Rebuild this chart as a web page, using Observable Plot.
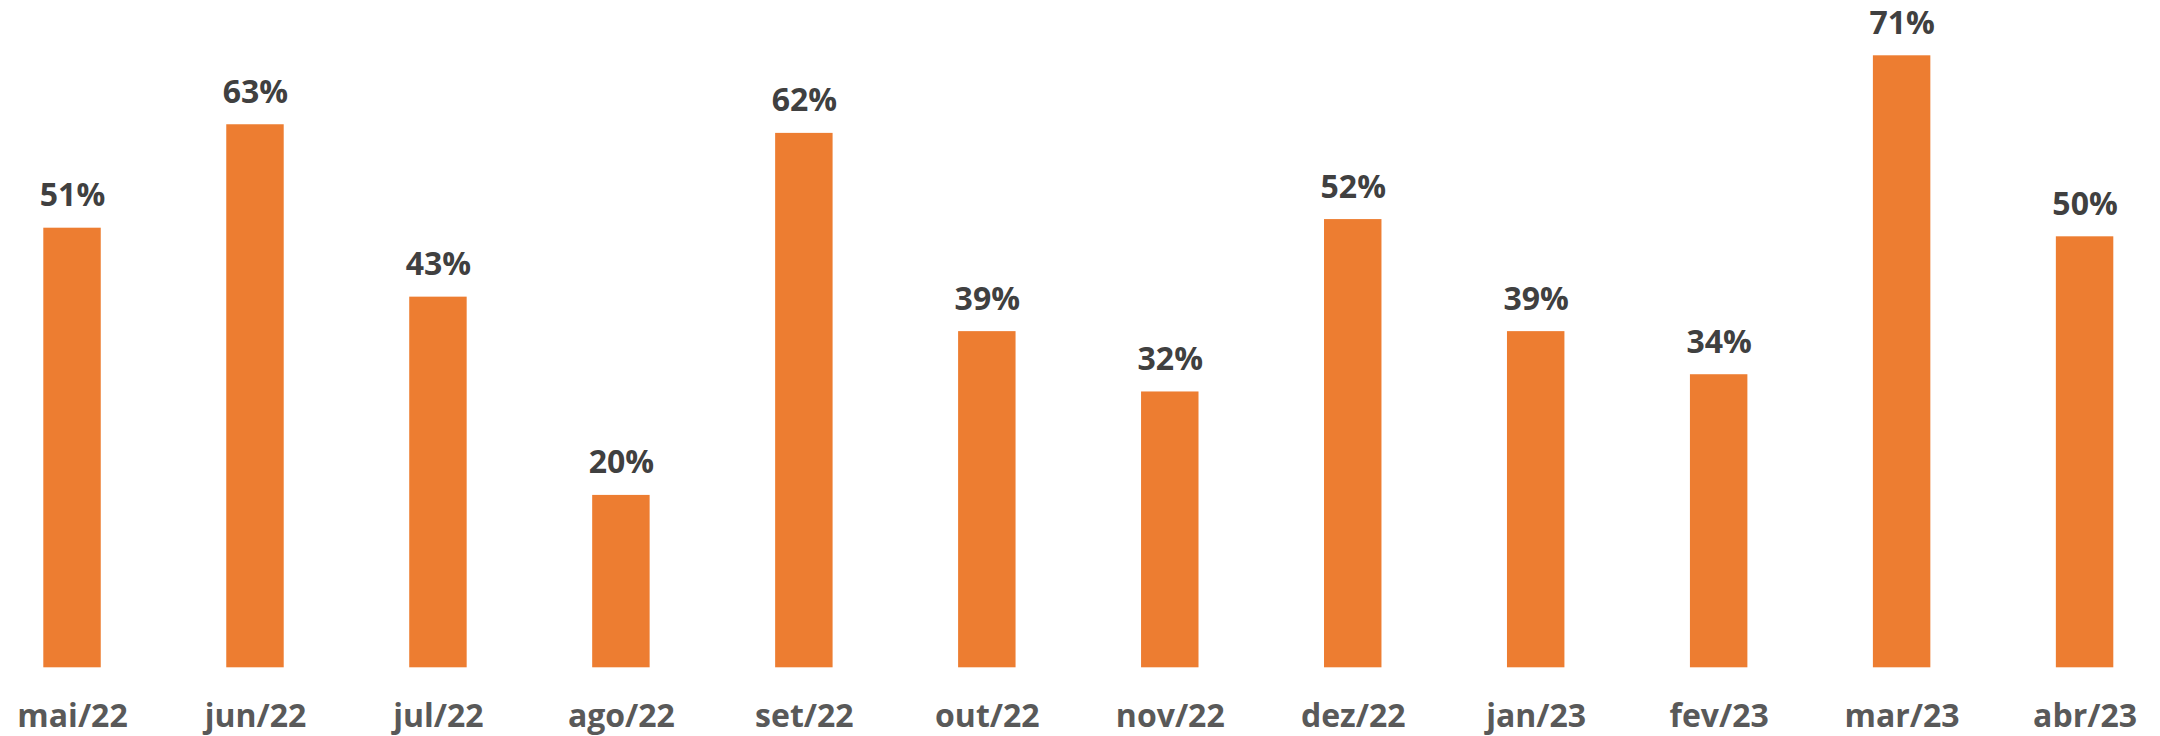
<!DOCTYPE html>
<html>
<head>
<meta charset="utf-8">
<script src="https://cdn.jsdelivr.net/npm/d3@7"></script>
<script src="https://cdn.jsdelivr.net/npm/@observablehq/plot@0.6"></script>
<style>
  html, body { margin: 0; padding: 0; background: #ffffff; }
  #chart svg { display: block; }
</style>
</head>
<body>
<div id="chart"></div>
<script>
const months = ["mai/22", "jun/22", "jul/22", "ago/22", "set/22", "out/22", "nov/22", "dez/22", "jan/23", "fev/23", "mar/23", "abr/23"];
const values = [51, 63, 43, 20, 62, 39, 32, 52, 39, 34, 71, 50];

const data = months.map((m, i) => ({month: m, value: values[i]}));

const chart = Plot.plot({
  width: 2160,
  height: 736,
  marginLeft: 43.3,
  marginRight: 46.7,
  marginTop: 55.3,
  marginBottom: 68.7,
  style: {fontFamily: "'Open Sans', sans-serif", background: "#ffffff"},
  x: {domain: months, padding: 0.686, paddingOuter: 0, round: false, label: null},
  y: {domain: [0, 71], axis: null},
  marks: [
    Plot.barY(data, {x: "month", y: "value", fill: "#ED7D31"}),
    Plot.text(data, {
      x: "month", y: "value", text: d => d.value + "%",
      lineAnchor: "bottom", dy: -22,
      fontSize: 32, fontWeight: "bold", fill: "#404040"
    }),
    Plot.axisX({
      tickSize: 0, tickPadding: 36.7,
      fontSize: 32, fontWeight: "bold", color: "#595959", fill: "#595959", label: null
    })
  ]
});
document.getElementById("chart").appendChild(chart);
</script>
</body>
</html>
